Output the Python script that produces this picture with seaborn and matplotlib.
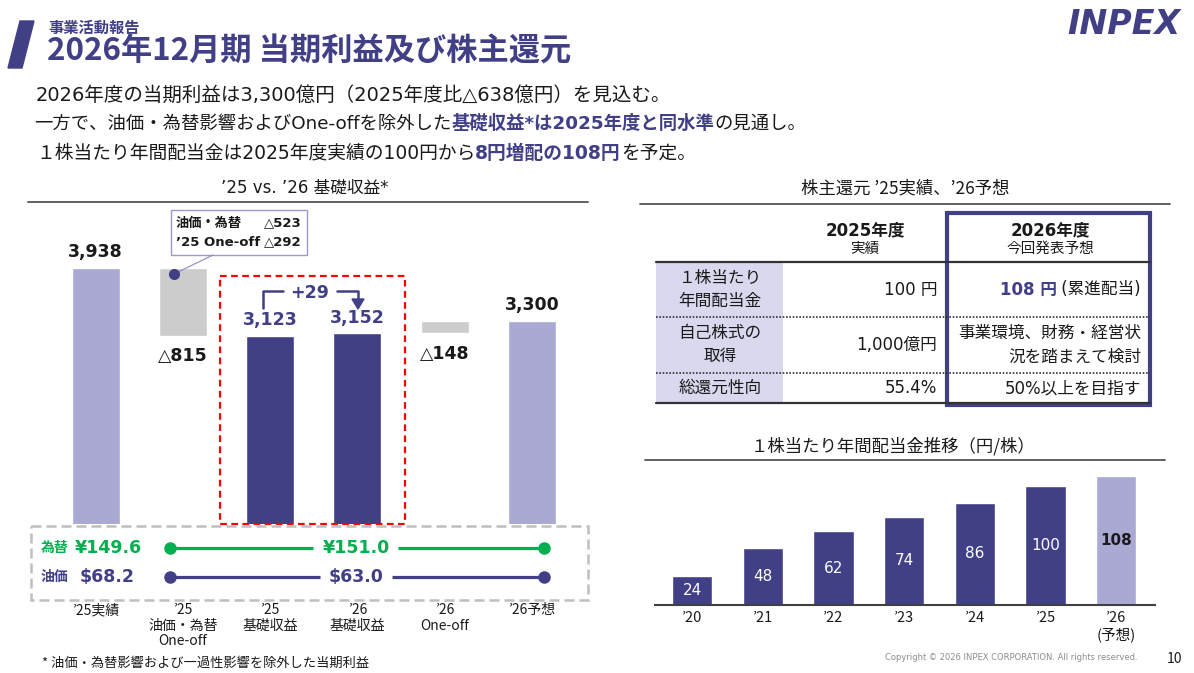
import matplotlib
matplotlib.use("Agg")
import matplotlib.pyplot as plt
import seaborn as sns
import pandas as pd
from matplotlib.patches import Rectangle, Polygon

# ---- data ----
wf_cats = ["’25実績", "’25\n油価・為替\nOne-off", "’25\n基礎収益", "’26\n基礎収益", "’26\nOne-off", "’26予想"]
wf_totals = [3938, None, 3123, 3152, None, 3300]
wf_step_labels = [None, "△815", None, None, "△148", None]
wf_diff_label = "+29"
box_lines = [("油価・為替", "△523"), ("’25 One-off", "△292")]

fx_rates = ["¥149.6", "¥151.0"]
oil_prices = ["$68.2", "$63.0"]

div_years = ["’20", "’21", "’22", "’23", "’24", "’25", "’26\n(予想)"]
div_values = [24, 48, 62, 74, 86, 100, 108]

tbl_col_heads = [("2025年度", "実績"), ("2026年度", "今回発表予想")]
tbl_row_heads = ["１株当たり\n年間配当金", "自己株式の\n取得", "総還元性向"]
tbl_2025 = ["100 円", "1,000億円", "55.4%"]
tbl_2026 = ["108 円", "事業環境、財務・経営状\n況を踏まえて検討", "50%以上を目指す"]
tbl_2026_note = " (累進配当)"

# ---- style ----
DARK = "#413f86"
LAV = "#aaa9d4"
GRAY = "#cccccc"
GREEN = "#00b050"
INK = "#1a1a1a"
JP = ["Noto Sans CJK JP", "DejaVu Sans"]
LAT = ["DejaVu Sans", "Noto Sans CJK JP"]

sns.set_theme(style="white")
plt.rcParams["font.family"] = JP

W, H = 1194, 673
fig = plt.figure(figsize=(W / 100, H / 100), dpi=100)


def px_axes(x0, y0, x1, y1, **kw):
    return fig.add_axes([x0 / W, 1 - y1 / H, (x1 - x0) / W, (y1 - y0) / H], **kw)


# ---- waterfall ----
ax1 = px_axes(28, 200, 590, 524)
ax1.patch.set_alpha(0)
wf_colors = [LAV, GRAY, DARK, DARK, GRAY, LAV]
tot = pd.DataFrame({"cat": wf_cats, "val": wf_totals}).dropna()
sns.barplot(data=tot, x="cat", y="val", hue="cat", order=wf_cats, hue_order=wf_cats,
            palette=dict(zip(wf_cats, wf_colors)), width=0.55, saturation=1,
            errorbar=None, legend=False, ax=ax1)
for i, v in enumerate(wf_totals):
    if v is None:
        lo = min(wf_totals[i - 1], wf_totals[i + 1])
        hi = max(wf_totals[i - 1], wf_totals[i + 1])
        ax1.bar(i, hi - lo, bottom=lo, width=0.55, color=wf_colors[i])
        ax1.annotate(wf_step_labels[i], (i, lo), xytext=(0, -8), textcoords="offset points",
                     ha="center", va="top", fontsize=12.5, fontweight="bold", color=INK, family=LAT)
    else:
        col = DARK if wf_colors[i] == DARK else INK
        ax1.annotate(f"{v:,}", (i, v), xytext=(0, 5), textcoords="offset points",
                     ha="center", va="bottom", fontsize=12.5, fontweight="bold", color=col, family=LAT)
ax1.set_xlim(-0.775, 5.665)
ax1.set_ylim(865, 4754)
ax1.set_yticks([])
ax1.set_xticks(range(len(wf_cats)))
ax1.set_xticklabels(wf_cats, fontsize=10, color=INK, linespacing=1.15)
ax1.tick_params(axis="x", length=0, pad=57)
ax1.set_xlabel("")
ax1.set_ylabel("")
sns.despine(ax=ax1, left=True, bottom=True)

# ---- dividend chart ----
ax2 = px_axes(645, 462, 1165, 605)
ax2.patch.set_alpha(0)
div_colors = [DARK] * (len(div_values) - 1) + [LAV]
sns.barplot(x=div_years, y=div_values, hue=div_years, palette=div_colors, width=0.57,
            saturation=1, errorbar=None, legend=False, ax=ax2)
for i, v in enumerate(div_values):
    last = i == len(div_values) - 1
    ax2.text(i, v / 2, str(v), ha="center", va="center", fontsize=11, family=LAT,
             color=INK if last else "white", fontweight="bold" if last else "normal")
ax2.set_xlim(-0.666, 6.69)
ax2.set_ylim(0, 120)
ax2.set_yticks([])
ax2.tick_params(axis="x", length=0, pad=4, labelsize=10.5, labelcolor=INK)
sns.despine(ax=ax2, left=True)
ax2.spines["bottom"].set_color("#404040")
ax2.spines["bottom"].set_linewidth(1.5)
ax2.spines["bottom"].set_bounds(-0.52, 6.55)

# ---- overlay in pixel coordinates ----
ov = fig.add_axes([0, 0, 1, 1], zorder=10)
ov.set_xlim(0, W)
ov.set_ylim(H, 0)
ov.axis("off")
ov.patch.set_alpha(0)
renderer = fig.canvas.get_renderer()


def rich_text(x, y, parts, size, family, ha="left"):
    objs = [ov.text(0, y, s, fontsize=size, color=c, fontweight=w, family=family,
                    va="center", ha="left") for s, c, w in parts]
    widths = [t.get_window_extent(renderer).width for t in objs]
    start = x if ha == "left" else x - sum(widths)
    for t, w in zip(objs, widths):
        t.set_x(start)
        start += w


# header
ov.add_patch(Polygon([(20, 21), (34, 21), (22, 68), (8, 68)], color=DARK))
ov.text(48, 28, "事業活動報告", fontsize=11, fontweight="bold", color=DARK, va="center")
ov.text(47, 52, "2026年12月期 当期利益及び株主還元", fontsize=22.5, fontweight="bold", color=DARK, va="center")
ov.text(1181, 25, "INPEX", fontsize=24, fontweight="heavy", fontstyle="italic", color=DARK,
        family=LAT, ha="right", va="center")

ov.text(36, 95, "2026年度の当期利益は3,300億円（2025年度比△638億円）を見込む。", fontsize=14,
        color=INK, va="center", family=LAT)
rich_text(34, 124, [("一方で、油価・為替影響およびOne-offを除外した", INK, "normal"),
                    ("基礎収益*は2025年度と同水準", DARK, "bold"),
                    ("の見通し。", INK, "normal")], 13.2, LAT)
rich_text(36, 153, [("１株当たり年間配当金は2025年度実績の100円から", INK, "normal"),
                    ("8円増配の108円", DARK, "bold"),
                    ("を予定。", INK, "normal")], 13.5, LAT)

# section titles
ov.text(305, 188, "’25 vs. ’26 基礎収益*", fontsize=12, color=INK, ha="center", va="center", family=LAT)
ov.plot([28, 588], [202, 202], color="#555555", lw=1.3)
ov.text(905, 188, "株主還元 ’25実績、’26予想", fontsize=12.5, color=INK, ha="center", va="center")
ov.plot([640, 1170], [204, 204], color="#555555", lw=1.3)
ov.text(893, 446, "１株当たり年間配当金推移（円/株）", fontsize=12.5, color=INK, ha="center", va="center")
ov.plot([645, 1165], [460, 460], color="#555555", lw=1.3)

# waterfall callouts
ov.add_patch(Rectangle((171, 210), 136, 45, facecolor="white", edgecolor="#9a99c9", lw=1))
for k, (name, val) in enumerate(box_lines):
    yy = 223 + k * 19
    ov.text(176, yy, name, fontsize=9.5, fontweight="bold", color=INK, va="center", family=LAT)
    ov.text(302, yy, val, fontsize=9.5, fontweight="bold", color=INK, va="center", ha="right", family=LAT)
ov.plot([213, 174], [255, 274], color="#8a89c0", lw=0.8)
ov.plot([174], [274], "o", color=DARK, ms=7)

ov.plot([263, 263, 283], [308, 291, 291], color=DARK, lw=1.8)
ov.plot([337, 358, 358], [291, 291, 300], color=DARK, lw=1.8)
ov.add_patch(Polygon([(352, 299), (364, 299), (358, 309)], color=DARK))
ov.text(310, 293, wf_diff_label, fontsize=12.5, fontweight="bold", color=DARK, ha="center",
        va="center", family=LAT)

ov.add_patch(Rectangle((220, 276), 185, 248, fill=False, edgecolor="#ff0000", lw=1.6, ls=(0, (3, 2))))
ov.add_patch(Rectangle((31, 526), 557, 74, fill=False, edgecolor="#bfbfbf", lw=1.8, ls=(0, (4, 2))))

# fx / oil rows
for yy, name, vals, col, segs, x_first in [
        (548, "為替", fx_rates, GREEN, [(170, 313), (398, 544)], 75),
        (577, "油価", oil_prices, DARK, [(170, 320), (392, 544)], 80)]:
    ov.text(41, yy, name, fontsize=10, fontweight="bold", color=col, va="center")
    ov.text(x_first, yy, vals[0], fontsize=12.5, fontweight="bold", color=col, va="center", family=LAT)
    for a, b in segs:
        ov.plot([a, b], [yy, yy], color=col, lw=2.3, solid_capstyle="butt")
    ov.plot([170, 544], [yy, yy], "o", color=col, ms=8)
    ov.text(356, yy, vals[1], fontsize=12.5, fontweight="bold", color=col, ha="center", va="center",
            family=LAT)

# table
tbl_x = [656, 783, 945, 1150]
tbl_y = [213, 262, 317, 373, 403]
ov.add_patch(Rectangle((tbl_x[0], tbl_y[1]), tbl_x[1] - tbl_x[0], tbl_y[4] - tbl_y[1],
                       facecolor="#d9d8ee", edgecolor="none"))
for yy in (tbl_y[1], tbl_y[4]):
    ov.plot([tbl_x[0], tbl_x[3]], [yy, yy], color="#333333", lw=1.6)
for yy in (tbl_y[2], tbl_y[3]):
    ov.plot([tbl_x[0], tbl_x[3]], [yy, yy], color="#333333", lw=1.2, ls=(0, (1, 1)))
ov.add_patch(Rectangle((947, 213), 203, 192, fill=False, edgecolor=DARK, lw=3))

for cx, (h1, h2) in zip([865, 1050], tbl_col_heads):
    ov.text(cx, 230, h1, fontsize=12, fontweight="bold", color=INK, ha="center", va="center", family=LAT)
    ov.text(cx, 249, h2, fontsize=10.5, color=INK, ha="center", va="center")

for r in range(3):
    cy = (tbl_y[r + 1] + tbl_y[r + 2]) / 2
    ov.text(720, cy, tbl_row_heads[r], fontsize=12, color=INK, ha="center", va="center",
            linespacing=1.45)
    ov.text(937, cy, tbl_2025[r], fontsize=12, color=INK, ha="right", va="center", family=LAT)
    if r == 0:
        rich_text(1141, cy, [(tbl_2026[r], DARK, "bold"), (tbl_2026_note, INK, "normal")], 12, LAT, ha="right")
    else:
        ov.text(1141, cy, tbl_2026[r], fontsize=12, color=INK, ha="right", va="center",
                multialignment="right", linespacing=1.4, family=LAT)

# footer
ov.text(42, 663, "* 油価・為替影響および一過性影響を除外した当期利益", fontsize=9.5, color=INK, va="center")
ov.text(1138, 657, "Copyright © 2026 INPEX CORPORATION. All rights reserved.", fontsize=6,
        color="#8c8c8c", ha="right", va="center", family=LAT)
ov.text(1175, 659, "10", fontsize=10, color=INK, ha="center", va="center")

fig.savefig("out.png", dpi=100)
